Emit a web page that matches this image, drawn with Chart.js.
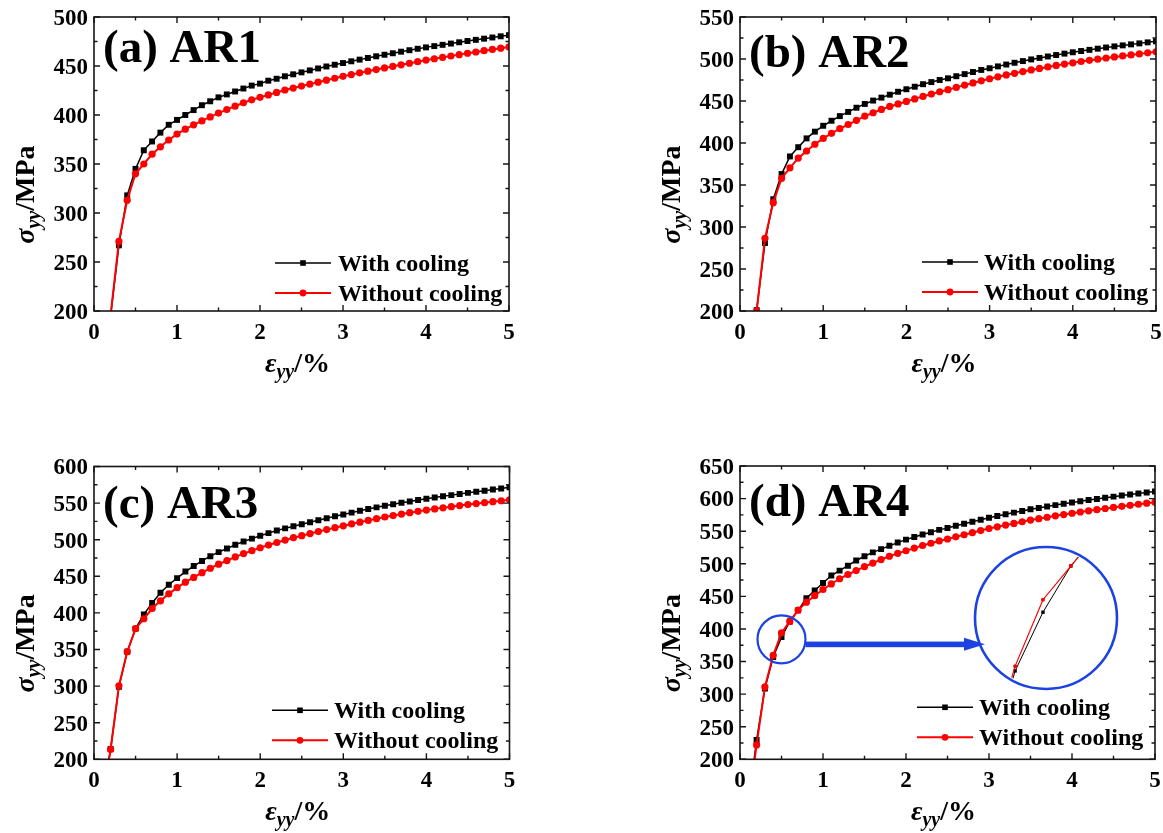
<!DOCTYPE html>
<html><head><meta charset="utf-8">
<script src="https://cdn.jsdelivr.net/npm/chart.js@4.4.1/dist/chart.umd.min.js"></script>
<style>
html,body{margin:0;padding:0;background:#fff;}
body{width:1163px;height:833px;position:relative;overflow:hidden;}
canvas{position:absolute;}
</style></head><body>
<canvas id="cA" width="580" height="420" style="left:0px;top:0px"></canvas>
<canvas id="cB" width="563" height="420" style="left:600px;top:0px"></canvas>
<canvas id="cC" width="580" height="393" style="left:0px;top:440px"></canvas>
<canvas id="cD" width="563" height="393" style="left:600px;top:440px"></canvas>
<canvas id="cZ" width="142" height="142" style="left:975px;top:547px;clip-path:circle(69px at 71px 71px)"></canvas>
<script>
// ---------------- data ----------------
const strain = [0.1,0.2,0.3,0.4,0.5,0.6,0.7,0.8,0.9,1.0,1.1,1.2,1.3,1.4,1.5,1.6,1.7,1.8,1.9,2.0,2.1,2.2,2.3,2.4,2.5,
  2.6,2.7,2.8,2.9,3.0,3.1,3.2,3.3,3.4,3.5,3.6,3.7,3.8,3.9,4.0,4.1,4.2,4.3,4.4,4.5,4.6,4.7,4.8,4.9,5.0];

const ar1Cool = [120,195,267,318,345,364,373,382,390,395, 400,405,410,414,418,421,424,427,430,432,
  435,437,439.5,441.5,443.5, 445.5,447.5,449.5,451.3,453, 454.8,456.5,458.2,459.9,461.5,
  463,464.6,466.1,467.6,469, 470.3,471.6,472.9,474.2,475.5, 476.7,477.9,479.1,480.3,481.5];
const ar1NoCool = [120,196,271,313,340,350,360,367.5,374.5,380.5, 385.5,390,394,398,402,405.5,409,412.5,415.5,418,
  420.5,423,425.5,427.5,429.5, 431.5,433.5,435.5,437.5,439.5, 441.2,443,444.7,446.4,448,
  449.6,451.2,452.8,454.4,456, 457.4,458.8,460.2,461.6,463, 464.3,465.6,466.9,468.2,469.5];

const ar2Cool = [110,201,281,333,363,384,395,405.5,413.5,420.5, 426.5,432,437,442,446.5,450.5,454,457.5,461,464,
  467,470,472.5,475,477, 479.5,482,484.5,487,489, 491.2,493.4,495.5,497.5,499.5,
  501.3,503,504.7,506.4,508, 509.5,510.9,512.3,513.7,515, 516.2,517.4,518.6,519.8,521];
const ar2NoCool = [110,200,286.5,329,358,370.5,382,390.5,398.5,405.5, 411.5,417,422,427,432,436,440,443.5,446.5,449.5,
  452.5,455.5,458.3,461,463.5, 466.2,468.9,471.5,474,476.5, 478.8,481,483,485,487,
  488.8,490.6,492.3,493.9,495.5, 497,498.4,499.8,501.2,502.5, 503.7,504.9,506.1,507.3,508.5];

const ar3Cool = [145,214,299,347,378.5,398,413.5,427.5,438.5,447.5, 456.5,464,471,477.5,483,488,493,497.5,501.5,505.5,
  509,512.5,515.5,518.5,521, 523.8,526.6,529.3,532,534.5, 537,539.5,541.9,544.2,546.5,
  548.5,550.5,552.3,554.2,556, 557.7,559.3,560.9,562.5,564, 565.5,567,568.5,570,571.5];
const ar3NoCool = [145,213.5,300.5,347,378.5,392,406,416.5,426,434.5, 442,448.5,455,461,466.5,471.5,476.5,481,485,489,
  492.7,496.2,499.5,502.7,505.5, 508.3,511.1,513.8,516.4,519, 521.5,524,526.4,528.7,531,
  533,535,536.9,538.7,540.5, 542.1,543.6,545.1,546.6,548, 549.3,550.6,551.9,553.2,554.5];

const ar4Cool = [130,229.5,308.5,357,387.5,411.5,428.5,447,459,470.5, 482,489.5,497,505,511.5,517.5,522.5,527.5,532.5,537,
  541,545,548.5,552,555, 558.2,561.4,564.5,567.5,570.5, 573.2,575.9,578.5,581,583.5,
  585.7,587.9,590,592,594, 595.9,597.7,599.5,601.3,603, 604.6,606.2,607.8,609.4,611];
const ar4NoCool = [125,222,311,359.5,394,411.5,429,441,451,460.5, 469,477,483.5,489.5,495.5,501,506.5,511.5,516,520,
  524,528,531.5,535,538, 541.3,544.5,547.7,550.9,554, 556.7,559.3,561.9,564.5,567,
  569.2,571.4,573.5,575.5,577.5, 579.4,581.2,583,584.8,586.5, 588.1,589.7,591.3,592.9,594.5];

const xTicks = [0,1,2,3,4,5];
const yTicksA = [200,250,300,350,400,450,500];
const yTicksB = [200,250,300,350,400,450,500,550];
const yTicksC = [200,250,300,350,400,450,500,550,600];
const yTicksD = [200,250,300,350,400,450,500,550,600,650];
const panelTitles = ['(a) AR1','(b) AR2','(c) AR3','(d) AR4'];
const seriesNames = ['With cooling','Without cooling'];

// ---------------- styling ----------------
const FONT = '"Liberation Serif","Times New Roman",serif';
const BLUE = 'rgb(28,66,226)';

function pts(ys){ return strain.map((x,i)=>({x:x, y:ys[i]})); }

function richText(ctx, segs, x, y){
  const w = segs.map(s=>{ ctx.font = (s.it?'italic ':'')+'bold '+s.size+'px '+FONT; return ctx.measureText(s.t).width; });
  let cx = x - w.reduce((a,b)=>a+b,0)/2;
  segs.forEach((s,i)=>{ ctx.font = (s.it?'italic ':'')+'bold '+s.size+'px '+FONT; ctx.fillText(s.t, cx, y+(s.dy||0)); cx += w[i]; });
}

function decor(cfg){
  return {
    id:'decor'+cfg.title,
    afterDraw(chart){
      const ctx = chart.ctx, ca = chart.chartArea, xs = chart.scales.x, ys = chart.scales.y;
      ctx.save();
      // frame
      ctx.strokeStyle = '#161616'; ctx.lineWidth = 1.6;
      ctx.strokeRect(ca.left, ca.top, ca.right-ca.left, ca.bottom-ca.top);
      // inward ticks on all sides
      ctx.lineWidth = 1.4;
      ctx.beginPath();
      const ymax = cfg.yTicks[cfg.yTicks.length-1];
      for (let v = 200; v <= ymax; v += 25){
        const py = ys.getPixelForValue(v), len = (v % 50 === 0) ? 6 : 3.5;
        ctx.moveTo(ca.left, py); ctx.lineTo(ca.left+len, py);
        ctx.moveTo(ca.right, py); ctx.lineTo(ca.right-len, py);
      }
      for (let k = 0; k <= 10; k++){
        const v = k/2, px = xs.getPixelForValue(v), len = (k % 2 === 0) ? 6 : 3.5;
        ctx.moveTo(px, ca.bottom); ctx.lineTo(px, ca.bottom-len);
        ctx.moveTo(px, ca.top); ctx.lineTo(px, ca.top+len);
      }
      ctx.stroke();
      // tick labels
      ctx.fillStyle = '#000';
      ctx.font = 'bold 23px '+FONT;
      ctx.textAlign = 'right'; ctx.textBaseline = 'alphabetic';
      cfg.yTicks.forEach(v=>ctx.fillText(String(v), ca.left-6, ys.getPixelForValue(v)+7.8));
      ctx.textAlign = 'center';
      xTicks.forEach(v=>ctx.fillText(String(v), xs.getPixelForValue(v), ca.bottom+27.5));
      // axis titles
      ctx.textAlign = 'left';
      richText(ctx, [{t:'\u03B5',size:28,it:true},{t:'yy',size:20,it:true,dy:6},{t:'/%',size:28}],
        (ca.left+ca.right)/2 - 4, ca.bottom+61);
      ctx.save();
      ctx.translate(ca.left-60, ca.top + 0.604*(ca.bottom-ca.top));
      ctx.rotate(-Math.PI/2);
      richText(ctx, [{t:'\u03C3',size:28,it:true},{t:'yy',size:20,it:true,dy:6},{t:'/MPa',size:28}], 0, 0);
      ctx.restore();
      // panel title
      ctx.font = 'bold 47px '+FONT;
      ctx.fillText(cfg.title, ca.left+9, ca.top+cfg.titleDy);
      // legend
      const L = cfg.legend;
      const rows = [
        {y: ca.bottom-L.row1, color:'#000', lw:1.5, rect:true, name:seriesNames[0]},
        {y: ca.bottom-L.row2, color:'#ff0000', lw:2, rect:false, name:seriesNames[1]}
      ];
      rows.forEach(r=>{
        const x0 = ca.left+L.lineX, x1 = x0+56, xm = (x0+x1)/2;
        ctx.strokeStyle = r.color; ctx.lineWidth = r.lw;
        ctx.beginPath(); ctx.moveTo(x0, r.y); ctx.lineTo(x1, r.y); ctx.stroke();
        ctx.fillStyle = r.color;
        if (r.rect){ ctx.fillRect(xm-2.8, r.y-2.8, 5.6, 5.6); }
        else { ctx.beginPath(); ctx.arc(xm, r.y, 3.4, 0, Math.PI*2); ctx.fill(); }
        ctx.fillStyle = '#000';
        ctx.font = 'bold 24px '+FONT;
        ctx.fillText(r.name, ca.left+L.textX, r.y+8);
      });
      // zoom annotation (panel d)
      if (cfg.zoom){
        const z = cfg.zoom;
        const cx = xs.getPixelForValue(z.x), cy = ys.getPixelForValue(z.y);
        ctx.strokeStyle = BLUE; ctx.lineWidth = 2.2;
        ctx.beginPath(); ctx.arc(cx, cy, z.r, 0, Math.PI*2); ctx.stroke();
        const bx = z.bigCx - z.canvasLeft, by = z.bigCy - z.canvasTop;
        const tipX = bx - 61, ay = cy + 5;
        ctx.fillStyle = BLUE;
        ctx.fillRect(cx+z.r, ay-2.8, tipX-20-(cx+z.r), 5.6);
        ctx.beginPath(); ctx.moveTo(tipX-21, ay-6.5); ctx.lineTo(tipX, ay); ctx.lineTo(tipX-21, ay+6.5); ctx.closePath(); ctx.fill();
        ctx.lineWidth = 2.6;
        ctx.beginPath(); ctx.arc(bx, by, z.bigR, 0, Math.PI*2); ctx.stroke();
      }
      ctx.restore();
    }
  };
}

function datasets(cool, noCool){
  return [
    {label:seriesNames[1], data:pts(noCool), borderColor:'#ff0000', backgroundColor:'#ff0000', borderWidth:2,
     pointStyle:'circle', pointRadius:3.6, pointBorderWidth:0, order:0, tension:0},
    {label:seriesNames[0], data:pts(cool), borderColor:'#000000', backgroundColor:'#000000', borderWidth:1.5,
     pointStyle:'rect', pointRadius:4.2, pointBorderWidth:0, order:1, tension:0}
  ];
}

function makePanel(id, cool, noCool, cfg, pad){
  new Chart(document.getElementById(id), {
    type:'line',
    data:{datasets:datasets(cool, noCool)},
    options:{
      responsive:false, animation:false, devicePixelRatio:1, events:[],
      layout:{padding:pad},
      scales:{
        x:{type:'linear', min:0, max:5, display:false},
        y:{type:'linear', min:200, max:cfg.yTicks[cfg.yTicks.length-1], display:false}
      },
      plugins:{legend:{display:false}, tooltip:{enabled:false}}
    },
    plugins:[decor(cfg)]
  });
}

makePanel('cA', ar1Cool, ar1NoCool,
  {title:panelTitles[0], yTicks:yTicksA, titleDy:45, legend:{lineX:181, textX:244, row1:48, row2:18}},
  {left:94, right:71, top:17, bottom:109});
makePanel('cB', ar2Cool, ar2NoCool,
  {title:panelTitles[1], yTicks:yTicksB, titleDy:50, legend:{lineX:182, textX:244, row1:49, row2:19}},
  {left:140, right:7, top:17, bottom:109});
makePanel('cC', ar3Cool, ar3NoCool,
  {title:panelTitles[2], yTicks:yTicksC, titleDy:51, legend:{lineX:178, textX:240, row1:49, row2:19}},
  {left:94, right:70.5, top:26.5, bottom:73.7});
makePanel('cD', ar4Cool, ar4NoCool,
  {title:panelTitles[3], yTicks:yTicksD, titleDy:50, legend:{lineX:177, textX:239, row1:52, row2:22},
   zoom:{x:0.5, y:384, r:24, bigCx:1046, bigCy:618, bigR:71, canvasLeft:600, canvasTop:440}},
  {left:140, right:8, top:26, bottom:73.7});

// magnified inset (points 0.3 - 0.7 of AR4)
const insetIdx = [2,3,4,5,6];
new Chart(document.getElementById('cZ'), {
  type:'line',
  data:{datasets:[
    {data:insetIdx.map(i=>({x:strain[i], y:ar4NoCool[i]})), borderColor:'#ff0000', backgroundColor:'#ff0000',
     borderWidth:1.2, pointStyle:'circle', pointRadius:2, pointBorderWidth:0, order:0, clip:false},
    {data:insetIdx.map(i=>({x:strain[i], y:ar4Cool[i]})), borderColor:'#000', backgroundColor:'#000',
     borderWidth:1, pointStyle:'rect', pointRadius:2.4, pointBorderWidth:0, order:1, clip:false}
  ]},
  options:{
    responsive:false, animation:false, devicePixelRatio:1, events:[],
    layout:{padding:0},
    scales:{x:{type:'linear', min:0.2702, max:0.7516, display:false}, y:{type:'linear', min:349.7, max:419.3, display:false}},
    plugins:{legend:{display:false}, tooltip:{enabled:false}}
  }
});
</script>
</body></html>
